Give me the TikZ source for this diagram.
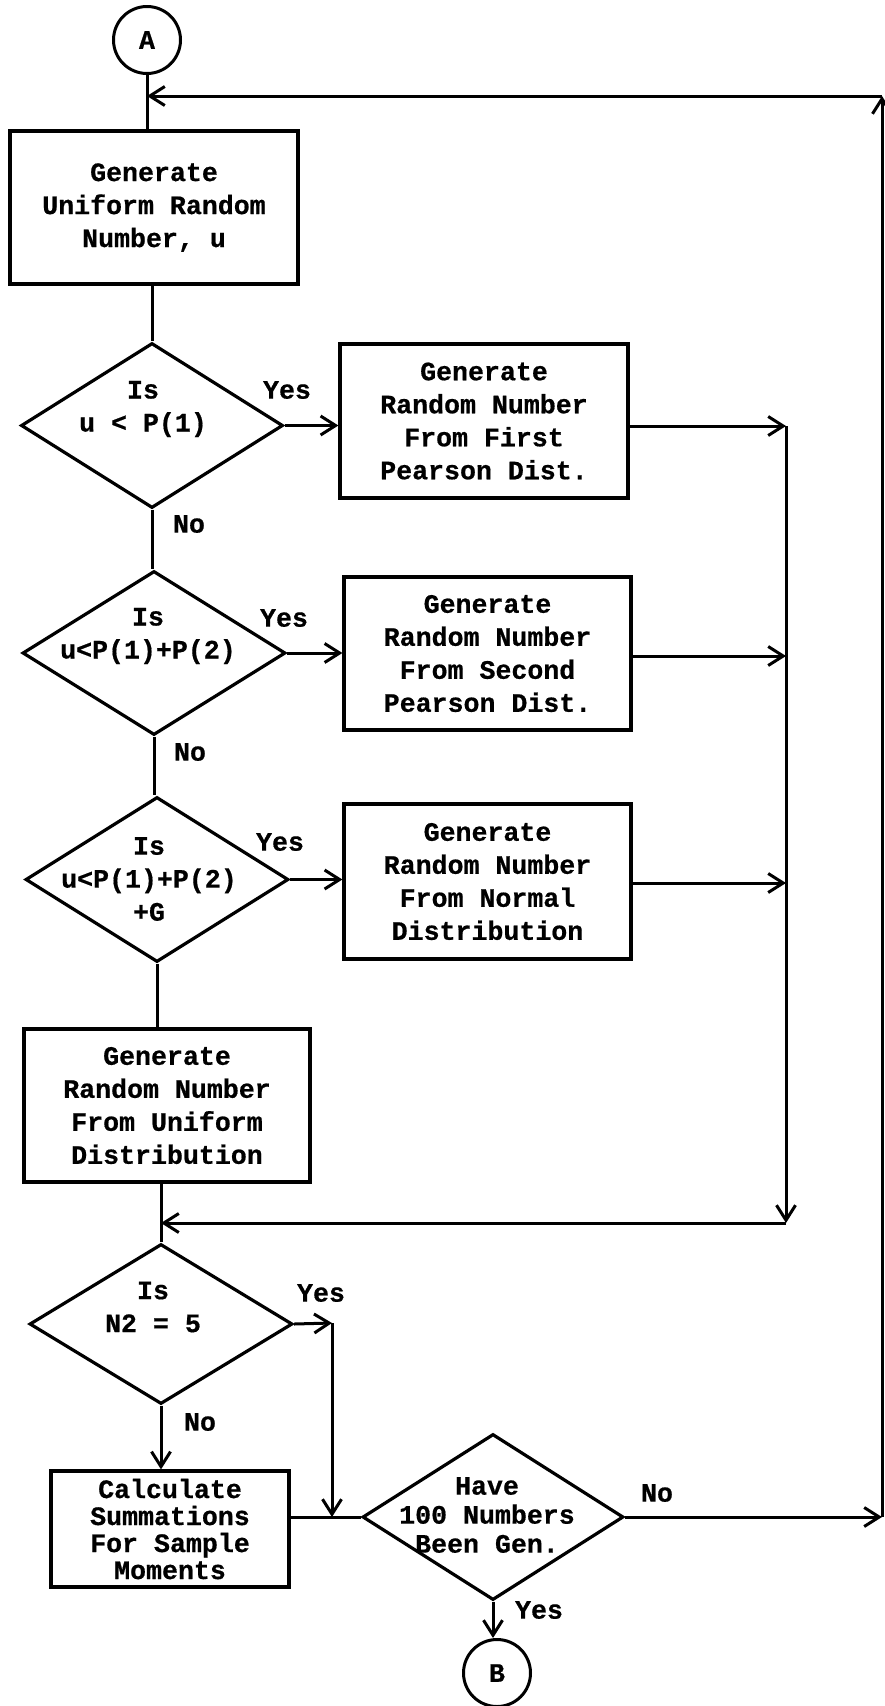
\documentclass[tikz,border=0pt]{standalone}
\usepackage{fontspec}
\usetikzlibrary{shapes.geometric,arrows.meta}
\newfontfamily\tw{Liberation Mono}[BoldFeatures={FakeBold=0.6}]
\begin{document}
\begin{tikzpicture}[x=1pt,y=-1pt,
  tt/.style={font=\tw\bfseries\fontsize{26.6}{33}\selectfont},
  procbox/.style={draw,line width=3.2pt,inner sep=0pt,align=center,tt},
  decision/.style={draw,diamond,line width=3.2pt,inner sep=0pt},
  qtext/.style={align=center,inner sep=0pt,tt},
  conn/.style={circle,draw,line width=3pt,minimum size=67pt,inner sep=0pt,tt},
  lbl/.style={inner sep=0pt,tt},
  line/.style={line width=3pt},
  arr/.style={line width=3pt,-{Straight Barb[length=15pt,width=19pt]}}
]
\useasboundingbox (0,0) rectangle (885,1706);

% terminals
\node[conn] (A) at (147,40) {A};
\node[conn] (B) at (497,1673) {B};

% first step
\node[procbox,minimum width=288pt,minimum height=153pt] (b1) at (154,207.5)
  {Generate\\Uniform Random\\Number, u};

% first test
\node[decision,minimum width=262pt,minimum height=165pt] (d1) at (152,425.5) {};
\node[qtext] (q1) at (143,409) {Is\\u < P(1)};
\node[procbox,minimum width=288pt,minimum height=154pt] (b2) at (484,421)
  {Generate\\Random Number\\From First\\Pearson Dist.};

% second test
\node[decision,minimum width=263pt,minimum height=164pt] (d2) at (154,653) {};
\node[qtext] (q2) at (148,636) {Is\\u<P(1)+P(2)};
\node[procbox,minimum width=287pt,minimum height=153pt] (b3) at (487.5,653.5)
  {Generate\\Random Number\\From Second\\Pearson Dist.};

% third test
\node[decision,minimum width=263pt,minimum height=165pt] (d3) at (157,879.5) {};
\node[qtext] (q3) at (149,879) {Is\\u<P(1)+P(2)\\+G};
\node[procbox,minimum width=287pt,minimum height=155pt] (b4) at (487.5,881.5)
  {Generate\\Random Number\\From Normal\\Distribution};

% fallback branch
\node[procbox,minimum width=286pt,minimum height=153pt] (b5) at (167,1105.5)
  {Generate\\Random Number\\From Uniform\\Distribution};

% counter test
\node[decision,minimum width=263pt,minimum height=160pt] (d4) at (161,1324) {};
\node[qtext] (q4) at (153,1307) {Is\\N2 = 5};
\node[procbox,minimum width=238pt,minimum height=116pt,
  font=\tw\bfseries\fontsize{26.6}{27}\selectfont] (b6) at (170,1529)
  {Calculate\\Summations\\For Sample\\Moments};

% loop test
\node[decision,minimum width=261pt,minimum height=166pt] (d5) at (493,1517) {};
\node[qtext,font=\tw\bfseries\fontsize{26.6}{29}\selectfont] (q5) at (487,1515)
  {Have\\100 Numbers\\Been Gen.};

% branch labels
\node[lbl] (y1) at (287,390) {Yes};
\node[lbl] (n1) at (189,524) {No};
\node[lbl] (y2) at (284,618) {Yes};
\node[lbl] (n2) at (190,752) {No};
\node[lbl] (y3) at (280,842) {Yes};
\node[lbl] (y4) at (321,1293) {Yes};
\node[lbl] (n4) at (200,1422) {No};
\node[lbl] (n5) at (657,1493) {No};
\node[lbl] (y5) at (539,1610) {Yes};

% junction points
\coordinate (j1) at (786,426);
\coordinate (j2) at (786,656);
\coordinate (j3) at (786,883);
\coordinate (jb) at (786,1223);
\coordinate (yk) at (332,1323);
\coordinate (rb) at (882,1517);
\coordinate (rt) at (882,96);

% main flow
\draw[line] (A.south) -- (A.south |- b1.north);
\draw[line] (d1.north |- b1.south) -- (d1.north);
\draw[line] (d1.south) -- (d1.south |- d2.north);
\draw[line] (d2.south) -- (d2.south |- d3.north);
\draw[line] (d3.south) -- (d3.south |- b5.north);
\draw[line] (d4.north |- b5.south) -- (d4.north);
\draw[arr] (d4.south) -- (d4.south |- b6.north);
\draw[line] (b6.east |- d5.west) -- (d5.west);
\draw[arr] (d5.south) -- (d5.south |- B.north);

% yes branches into the collector
\draw[arr] (d1.east) -- (b2.west |- d1.east);
\draw[arr] (d2.east) -- (b3.west |- d2.east);
\draw[arr] (d3.east) -- (b4.west |- d3.east);
\draw[arr] (b2.east |- j1) -- (j1);
\draw[arr] (b3.east |- j2) -- (j2);
\draw[arr] (b4.east |- j3) -- (j3);
\draw[arr] (j1) -- (jb);
\draw[arr] (jb) -- (d4.north |- jb);

% skip branch of the counter test
\draw[arr] (d4.east) -- (yk);
\draw[arr] (yk) -- (yk |- d5.west);

% return loop
\draw[arr] (d5.east) -- (rb);
\draw[arr] (rb) -- (rt);
\draw[arr] (rt) -- (A.south |- rt);
\end{tikzpicture}
\end{document}
